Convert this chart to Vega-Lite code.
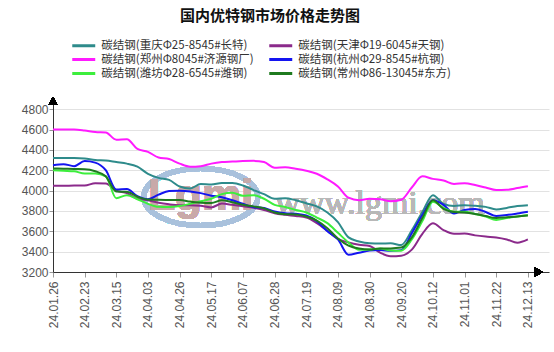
{
  "$schema": "https://vega.github.io/schema/vega-lite/v6.json",
  "autosize": {"type": "none"},
  "padding": {"left": 53, "top": 99, "right": 5, "bottom": 80},
  "width": 496,
  "height": 173,
  "background": "white",
  "title": {"text": "国内优特钢市场价格走势图", "font": "Noto Sans CJK SC", "fontSize": 15, "fontWeight": "bold", "color": "#111", "anchor": "middle", "dx": -31, "offset": 14, "frame": "group"},
  "config": {
    "view": {"stroke": null},
    "axis": {"labelFont": "Liberation Sans", "labelFontSize": 12, "labelColor": "#555"}
  },
  "data": {"values": [
{"date":"24.01.26","series":"碳结钢(重庆Φ25-8545#长特)","price":4320},
{"date":"24.02.01","series":"碳结钢(重庆Φ25-8545#长特)","price":4320},
{"date":"24.02.08","series":"碳结钢(重庆Φ25-8545#长特)","price":4320},
{"date":"24.02.23","series":"碳结钢(重庆Φ25-8545#长特)","price":4315},
{"date":"24.03.01","series":"碳结钢(重庆Φ25-8545#长特)","price":4300},
{"date":"24.03.08","series":"碳结钢(重庆Φ25-8545#长特)","price":4295},
{"date":"24.03.15","series":"碳结钢(重庆Φ25-8545#长特)","price":4280},
{"date":"24.03.22","series":"碳结钢(重庆Φ25-8545#长特)","price":4265},
{"date":"24.03.28","series":"碳结钢(重庆Φ25-8545#长特)","price":4235},
{"date":"24.04.03","series":"碳结钢(重庆Φ25-8545#长特)","price":4165},
{"date":"24.04.12","series":"碳结钢(重庆Φ25-8545#长特)","price":4125},
{"date":"24.04.19","series":"碳结钢(重庆Φ25-8545#长特)","price":4105},
{"date":"24.04.26","series":"碳结钢(重庆Φ25-8545#长特)","price":4040},
{"date":"24.05.06","series":"碳结钢(重庆Φ25-8545#长特)","price":4020},
{"date":"24.05.11","series":"碳结钢(重庆Φ25-8545#长特)","price":4065},
{"date":"24.05.17","series":"碳结钢(重庆Φ25-8545#长特)","price":4060},
{"date":"24.05.24","series":"碳结钢(重庆Φ25-8545#长特)","price":4075},
{"date":"24.05.31","series":"碳结钢(重庆Φ25-8545#长特)","price":4075},
{"date":"24.06.07","series":"碳结钢(重庆Φ25-8545#长特)","price":4050},
{"date":"24.06.14","series":"碳结钢(重庆Φ25-8545#长特)","price":4005},
{"date":"24.06.21","series":"碳结钢(重庆Φ25-8545#长特)","price":3965},
{"date":"24.06.28","series":"碳结钢(重庆Φ25-8545#长特)","price":3920},
{"date":"24.07.05","series":"碳结钢(重庆Φ25-8545#长特)","price":3925},
{"date":"24.07.12","series":"碳结钢(重庆Φ25-8545#长特)","price":3905},
{"date":"24.07.19","series":"碳结钢(重庆Φ25-8545#长特)","price":3875},
{"date":"24.07.26","series":"碳结钢(重庆Φ25-8545#长特)","price":3845},
{"date":"24.08.02","series":"碳结钢(重庆Φ25-8545#长特)","price":3785},
{"date":"24.08.09","series":"碳结钢(重庆Φ25-8545#长特)","price":3690},
{"date":"24.08.16","series":"碳结钢(重庆Φ25-8545#长特)","price":3540},
{"date":"24.08.23","series":"碳结钢(重庆Φ25-8545#长特)","price":3500},
{"date":"24.08.30","series":"碳结钢(重庆Φ25-8545#长特)","price":3482},
{"date":"24.09.06","series":"碳结钢(重庆Φ25-8545#长特)","price":3480},
{"date":"24.09.13","series":"碳结钢(重庆Φ25-8545#长特)","price":3482},
{"date":"24.09.20","series":"碳结钢(重庆Φ25-8545#长特)","price":3465},
{"date":"24.09.27","series":"碳结钢(重庆Φ25-8545#长特)","price":3610},
{"date":"24.10.09","series":"碳结钢(重庆Φ25-8545#长特)","price":3790},
{"date":"24.10.12","series":"碳结钢(重庆Φ25-8545#长特)","price":3955},
{"date":"24.10.18","series":"碳结钢(重庆Φ25-8545#长特)","price":3870},
{"date":"24.10.25","series":"碳结钢(重庆Φ25-8545#长特)","price":3848},
{"date":"24.11.01","series":"碳结钢(重庆Φ25-8545#长特)","price":3857},
{"date":"24.11.08","series":"碳结钢(重庆Φ25-8545#长特)","price":3850},
{"date":"24.11.15","series":"碳结钢(重庆Φ25-8545#长特)","price":3840},
{"date":"24.11.22","series":"碳结钢(重庆Φ25-8545#长特)","price":3815},
{"date":"24.11.29","series":"碳结钢(重庆Φ25-8545#长特)","price":3830},
{"date":"24.12.06","series":"碳结钢(重庆Φ25-8545#长特)","price":3848},
{"date":"24.12.13","series":"碳结钢(重庆Φ25-8545#长特)","price":3857},
{"date":"24.01.26","series":"碳结钢(天津Φ19-6045#天钢)","price":4047},
{"date":"24.02.01","series":"碳结钢(天津Φ19-6045#天钢)","price":4047},
{"date":"24.02.08","series":"碳结钢(天津Φ19-6045#天钢)","price":4050},
{"date":"24.02.23","series":"碳结钢(天津Φ19-6045#天钢)","price":4050},
{"date":"24.03.01","series":"碳结钢(天津Φ19-6045#天钢)","price":4072},
{"date":"24.03.08","series":"碳结钢(天津Φ19-6045#天钢)","price":4070},
{"date":"24.03.15","series":"碳结钢(天津Φ19-6045#天钢)","price":4000},
{"date":"24.03.22","series":"碳结钢(天津Φ19-6045#天钢)","price":3975},
{"date":"24.03.28","series":"碳结钢(天津Φ19-6045#天钢)","price":3920},
{"date":"24.04.03","series":"碳结钢(天津Φ19-6045#天钢)","price":3905},
{"date":"24.04.12","series":"碳结钢(天津Φ19-6045#天钢)","price":3880},
{"date":"24.04.19","series":"碳结钢(天津Φ19-6045#天钢)","price":3865},
{"date":"24.04.26","series":"碳结钢(天津Φ19-6045#天钢)","price":3857},
{"date":"24.05.06","series":"碳结钢(天津Φ19-6045#天钢)","price":3857},
{"date":"24.05.11","series":"碳结钢(天津Φ19-6045#天钢)","price":3850},
{"date":"24.05.17","series":"碳结钢(天津Φ19-6045#天钢)","price":3835},
{"date":"24.05.24","series":"碳结钢(天津Φ19-6045#天钢)","price":3872},
{"date":"24.05.31","series":"碳结钢(天津Φ19-6045#天钢)","price":3860},
{"date":"24.06.07","series":"碳结钢(天津Φ19-6045#天钢)","price":3845},
{"date":"24.06.14","series":"碳结钢(天津Φ19-6045#天钢)","price":3830},
{"date":"24.06.21","series":"碳结钢(天津Φ19-6045#天钢)","price":3810},
{"date":"24.06.28","series":"碳结钢(天津Φ19-6045#天钢)","price":3778},
{"date":"24.07.05","series":"碳结钢(天津Φ19-6045#天钢)","price":3762},
{"date":"24.07.12","series":"碳结钢(天津Φ19-6045#天钢)","price":3750},
{"date":"24.07.19","series":"碳结钢(天津Φ19-6045#天钢)","price":3735},
{"date":"24.07.26","series":"碳结钢(天津Φ19-6045#天钢)","price":3680},
{"date":"24.08.02","series":"碳结钢(天津Φ19-6045#天钢)","price":3605},
{"date":"24.08.09","series":"碳结钢(天津Φ19-6045#天钢)","price":3525},
{"date":"24.08.16","series":"碳结钢(天津Φ19-6045#天钢)","price":3490},
{"date":"24.08.23","series":"碳结钢(天津Φ19-6045#天钢)","price":3467},
{"date":"24.08.30","series":"碳结钢(天津Φ19-6045#天钢)","price":3455},
{"date":"24.09.06","series":"碳结钢(天津Φ19-6045#天钢)","price":3390},
{"date":"24.09.13","series":"碳结钢(天津Φ19-6045#天钢)","price":3355},
{"date":"24.09.20","series":"碳结钢(天津Φ19-6045#天钢)","price":3360},
{"date":"24.09.27","series":"碳结钢(天津Φ19-6045#天钢)","price":3420},
{"date":"24.10.09","series":"碳结钢(天津Φ19-6045#天钢)","price":3575},
{"date":"24.10.12","series":"碳结钢(天津Φ19-6045#天钢)","price":3678},
{"date":"24.10.18","series":"碳结钢(天津Φ19-6045#天钢)","price":3612},
{"date":"24.10.25","series":"碳结钢(天津Φ19-6045#天钢)","price":3575},
{"date":"24.11.01","series":"碳结钢(天津Φ19-6045#天钢)","price":3578},
{"date":"24.11.08","series":"碳结钢(天津Φ19-6045#天钢)","price":3560},
{"date":"24.11.15","series":"碳结钢(天津Φ19-6045#天钢)","price":3548},
{"date":"24.11.22","series":"碳结钢(天津Φ19-6045#天钢)","price":3540},
{"date":"24.11.29","series":"碳结钢(天津Φ19-6045#天钢)","price":3520},
{"date":"24.12.06","series":"碳结钢(天津Φ19-6045#天钢)","price":3488},
{"date":"24.12.13","series":"碳结钢(天津Φ19-6045#天钢)","price":3520},
{"date":"24.01.26","series":"碳结钢(郑州Φ8045#济源钢厂)","price":4600},
{"date":"24.02.01","series":"碳结钢(郑州Φ8045#济源钢厂)","price":4600},
{"date":"24.02.08","series":"碳结钢(郑州Φ8045#济源钢厂)","price":4600},
{"date":"24.02.23","series":"碳结钢(郑州Φ8045#济源钢厂)","price":4590},
{"date":"24.03.01","series":"碳结钢(郑州Φ8045#济源钢厂)","price":4575},
{"date":"24.03.08","series":"碳结钢(郑州Φ8045#济源钢厂)","price":4570},
{"date":"24.03.15","series":"碳结钢(郑州Φ8045#济源钢厂)","price":4500},
{"date":"24.03.22","series":"碳结钢(郑州Φ8045#济源钢厂)","price":4505},
{"date":"24.03.28","series":"碳结钢(郑州Φ8045#济源钢厂)","price":4410},
{"date":"24.04.03","series":"碳结钢(郑州Φ8045#济源钢厂)","price":4380},
{"date":"24.04.12","series":"碳结钢(郑州Φ8045#济源钢厂)","price":4325},
{"date":"24.04.19","series":"碳结钢(郑州Φ8045#济源钢厂)","price":4310},
{"date":"24.04.26","series":"碳结钢(郑州Φ8045#济源钢厂)","price":4265},
{"date":"24.05.06","series":"碳结钢(郑州Φ8045#济源钢厂)","price":4235},
{"date":"24.05.11","series":"碳结钢(郑州Φ8045#济源钢厂)","price":4240},
{"date":"24.05.17","series":"碳结钢(郑州Φ8045#济源钢厂)","price":4265},
{"date":"24.05.24","series":"碳结钢(郑州Φ8045#济源钢厂)","price":4280},
{"date":"24.05.31","series":"碳结钢(郑州Φ8045#济源钢厂)","price":4285},
{"date":"24.06.07","series":"碳结钢(郑州Φ8045#济源钢厂)","price":4290},
{"date":"24.06.14","series":"碳结钢(郑州Φ8045#济源钢厂)","price":4292},
{"date":"24.06.21","series":"碳结钢(郑州Φ8045#济源钢厂)","price":4280},
{"date":"24.06.28","series":"碳结钢(郑州Φ8045#济源钢厂)","price":4225},
{"date":"24.07.05","series":"碳结钢(郑州Φ8045#济源钢厂)","price":4230},
{"date":"24.07.12","series":"碳结钢(郑州Φ8045#济源钢厂)","price":4215},
{"date":"24.07.19","series":"碳结钢(郑州Φ8045#济源钢厂)","price":4195},
{"date":"24.07.26","series":"碳结钢(郑州Φ8045#济源钢厂)","price":4165},
{"date":"24.08.02","series":"碳结钢(郑州Φ8045#济源钢厂)","price":4110},
{"date":"24.08.09","series":"碳结钢(郑州Φ8045#济源钢厂)","price":4040},
{"date":"24.08.16","series":"碳结钢(郑州Φ8045#济源钢厂)","price":3930},
{"date":"24.08.23","series":"碳结钢(郑州Φ8045#济源钢厂)","price":3905},
{"date":"24.08.30","series":"碳结钢(郑州Φ8045#济源钢厂)","price":3920},
{"date":"24.09.06","series":"碳结钢(郑州Φ8045#济源钢厂)","price":3915},
{"date":"24.09.13","series":"碳结钢(郑州Φ8045#济源钢厂)","price":3895},
{"date":"24.09.20","series":"碳结钢(郑州Φ8045#济源钢厂)","price":3910},
{"date":"24.09.27","series":"碳结钢(郑州Φ8045#济源钢厂)","price":4030},
{"date":"24.10.09","series":"碳结钢(郑州Φ8045#济源钢厂)","price":4140},
{"date":"24.10.12","series":"碳结钢(郑州Φ8045#济源钢厂)","price":4115},
{"date":"24.10.18","series":"碳结钢(郑州Φ8045#济源钢厂)","price":4100},
{"date":"24.10.25","series":"碳结钢(郑州Φ8045#济源钢厂)","price":4065},
{"date":"24.11.01","series":"碳结钢(郑州Φ8045#济源钢厂)","price":4072},
{"date":"24.11.08","series":"碳结钢(郑州Φ8045#济源钢厂)","price":4055},
{"date":"24.11.15","series":"碳结钢(郑州Φ8045#济源钢厂)","price":4030},
{"date":"24.11.22","series":"碳结钢(郑州Φ8045#济源钢厂)","price":4005},
{"date":"24.11.29","series":"碳结钢(郑州Φ8045#济源钢厂)","price":4008},
{"date":"24.12.06","series":"碳结钢(郑州Φ8045#济源钢厂)","price":4025},
{"date":"24.12.13","series":"碳结钢(郑州Φ8045#济源钢厂)","price":4044},
{"date":"24.01.26","series":"碳结钢(杭州Φ29-8545#杭钢)","price":4250},
{"date":"24.02.01","series":"碳结钢(杭州Φ29-8545#杭钢)","price":4260},
{"date":"24.02.08","series":"碳结钢(杭州Φ29-8545#杭钢)","price":4240},
{"date":"24.02.23","series":"碳结钢(杭州Φ29-8545#杭钢)","price":4290},
{"date":"24.03.01","series":"碳结钢(杭州Φ29-8545#杭钢)","price":4275},
{"date":"24.03.08","series":"碳结钢(杭州Φ29-8545#杭钢)","price":4200},
{"date":"24.03.15","series":"碳结钢(杭州Φ29-8545#杭钢)","price":4010},
{"date":"24.03.22","series":"碳结钢(杭州Φ29-8545#杭钢)","price":4015},
{"date":"24.03.28","series":"碳结钢(杭州Φ29-8545#杭钢)","price":3945},
{"date":"24.04.03","series":"碳结钢(杭州Φ29-8545#杭钢)","price":3915},
{"date":"24.04.12","series":"碳结钢(杭州Φ29-8545#杭钢)","price":3960},
{"date":"24.04.19","series":"碳结钢(杭州Φ29-8545#杭钢)","price":3995},
{"date":"24.04.26","series":"碳结钢(杭州Φ29-8545#杭钢)","price":3998},
{"date":"24.05.06","series":"碳结钢(杭州Φ29-8545#杭钢)","price":3992},
{"date":"24.05.11","series":"碳结钢(杭州Φ29-8545#杭钢)","price":3975},
{"date":"24.05.17","series":"碳结钢(杭州Φ29-8545#杭钢)","price":3950},
{"date":"24.05.24","series":"碳结钢(杭州Φ29-8545#杭钢)","price":3935},
{"date":"24.05.31","series":"碳结钢(杭州Φ29-8545#杭钢)","price":3905},
{"date":"24.06.07","series":"碳结钢(杭州Φ29-8545#杭钢)","price":3870},
{"date":"24.06.14","series":"碳结钢(杭州Φ29-8545#杭钢)","price":3838},
{"date":"24.06.21","series":"碳结钢(杭州Φ29-8545#杭钢)","price":3828},
{"date":"24.06.28","series":"碳结钢(杭州Φ29-8545#杭钢)","price":3795},
{"date":"24.07.05","series":"碳结钢(杭州Φ29-8545#杭钢)","price":3778},
{"date":"24.07.12","series":"碳结钢(杭州Φ29-8545#杭钢)","price":3772},
{"date":"24.07.19","series":"碳结钢(杭州Φ29-8545#杭钢)","price":3755},
{"date":"24.07.26","series":"碳结钢(杭州Φ29-8545#杭钢)","price":3700},
{"date":"24.08.02","series":"碳结钢(杭州Φ29-8545#杭钢)","price":3600},
{"date":"24.08.09","series":"碳结钢(杭州Φ29-8545#杭钢)","price":3520},
{"date":"24.08.16","series":"碳结钢(杭州Φ29-8545#杭钢)","price":3370},
{"date":"24.08.23","series":"碳结钢(杭州Φ29-8545#杭钢)","price":3390},
{"date":"24.08.30","series":"碳结钢(杭州Φ29-8545#杭钢)","price":3410},
{"date":"24.09.06","series":"碳结钢(杭州Φ29-8545#杭钢)","price":3415},
{"date":"24.09.13","series":"碳结钢(杭州Φ29-8545#杭钢)","price":3409},
{"date":"24.09.20","series":"碳结钢(杭州Φ29-8545#杭钢)","price":3415},
{"date":"24.09.27","series":"碳结钢(杭州Φ29-8545#杭钢)","price":3580},
{"date":"24.10.09","series":"碳结钢(杭州Φ29-8545#杭钢)","price":3760},
{"date":"24.10.12","series":"碳结钢(杭州Φ29-8545#杭钢)","price":3905},
{"date":"24.10.18","series":"碳结钢(杭州Φ29-8545#杭钢)","price":3860},
{"date":"24.10.25","series":"碳结钢(杭州Φ29-8545#杭钢)","price":3775},
{"date":"24.11.01","series":"碳结钢(杭州Φ29-8545#杭钢)","price":3810},
{"date":"24.11.08","series":"碳结钢(杭州Φ29-8545#杭钢)","price":3820},
{"date":"24.11.15","series":"碳结钢(杭州Φ29-8545#杭钢)","price":3790},
{"date":"24.11.22","series":"碳结钢(杭州Φ29-8545#杭钢)","price":3750},
{"date":"24.11.29","series":"碳结钢(杭州Φ29-8545#杭钢)","price":3760},
{"date":"24.12.06","series":"碳结钢(杭州Φ29-8545#杭钢)","price":3775},
{"date":"24.12.13","series":"碳结钢(杭州Φ29-8545#杭钢)","price":3792},
{"date":"24.01.26","series":"碳结钢(潍坊Φ28-6545#潍钢)","price":4200},
{"date":"24.02.01","series":"碳结钢(潍坊Φ28-6545#潍钢)","price":4195},
{"date":"24.02.08","series":"碳结钢(潍坊Φ28-6545#潍钢)","price":4190},
{"date":"24.02.23","series":"碳结钢(潍坊Φ28-6545#潍钢)","price":4168},
{"date":"24.03.01","series":"碳结钢(潍坊Φ28-6545#潍钢)","price":4168},
{"date":"24.03.08","series":"碳结钢(潍坊Φ28-6545#潍钢)","price":4140},
{"date":"24.03.15","series":"碳结钢(潍坊Φ28-6545#潍钢)","price":3925},
{"date":"24.03.22","series":"碳结钢(潍坊Φ28-6545#潍钢)","price":3955},
{"date":"24.03.28","series":"碳结钢(潍坊Φ28-6545#潍钢)","price":3915},
{"date":"24.04.03","series":"碳结钢(潍坊Φ28-6545#潍钢)","price":3870},
{"date":"24.04.12","series":"碳结钢(潍坊Φ28-6545#潍钢)","price":3840},
{"date":"24.04.19","series":"碳结钢(潍坊Φ28-6545#潍钢)","price":3838},
{"date":"24.04.26","series":"碳结钢(潍坊Φ28-6545#潍钢)","price":3848},
{"date":"24.05.06","series":"碳结钢(潍坊Φ28-6545#潍钢)","price":3870},
{"date":"24.05.11","series":"碳结钢(潍坊Φ28-6545#潍钢)","price":3895},
{"date":"24.05.17","series":"碳结钢(潍坊Φ28-6545#潍钢)","price":3920},
{"date":"24.05.24","series":"碳结钢(潍坊Φ28-6545#潍钢)","price":3965},
{"date":"24.05.31","series":"碳结钢(潍坊Φ28-6545#潍钢)","price":3978},
{"date":"24.06.07","series":"碳结钢(潍坊Φ28-6545#潍钢)","price":3950},
{"date":"24.06.14","series":"碳结钢(潍坊Φ28-6545#潍钢)","price":3955},
{"date":"24.06.21","series":"碳结钢(潍坊Φ28-6545#潍钢)","price":3920},
{"date":"24.06.28","series":"碳结钢(潍坊Φ28-6545#潍钢)","price":3860},
{"date":"24.07.05","series":"碳结钢(潍坊Φ28-6545#潍钢)","price":3838},
{"date":"24.07.12","series":"碳结钢(潍坊Φ28-6545#潍钢)","price":3810},
{"date":"24.07.19","series":"碳结钢(潍坊Φ28-6545#潍钢)","price":3785},
{"date":"24.07.26","series":"碳结钢(潍坊Φ28-6545#潍钢)","price":3735},
{"date":"24.08.02","series":"碳结钢(潍坊Φ28-6545#潍钢)","price":3680},
{"date":"24.08.09","series":"碳结钢(潍坊Φ28-6545#潍钢)","price":3585},
{"date":"24.08.16","series":"碳结钢(潍坊Φ28-6545#潍钢)","price":3490},
{"date":"24.08.23","series":"碳结钢(潍坊Φ28-6545#潍钢)","price":3418},
{"date":"24.08.30","series":"碳结钢(潍坊Φ28-6545#潍钢)","price":3420},
{"date":"24.09.06","series":"碳结钢(潍坊Φ28-6545#潍钢)","price":3432},
{"date":"24.09.13","series":"碳结钢(潍坊Φ28-6545#潍钢)","price":3412},
{"date":"24.09.20","series":"碳结钢(潍坊Φ28-6545#潍钢)","price":3410},
{"date":"24.09.27","series":"碳结钢(潍坊Φ28-6545#潍钢)","price":3520},
{"date":"24.10.09","series":"碳结钢(潍坊Φ28-6545#潍钢)","price":3700},
{"date":"24.10.12","series":"碳结钢(潍坊Φ28-6545#潍钢)","price":3890},
{"date":"24.10.18","series":"碳结钢(潍坊Φ28-6545#潍钢)","price":3830},
{"date":"24.10.25","series":"碳结钢(潍坊Φ28-6545#潍钢)","price":3792},
{"date":"24.11.01","series":"碳结钢(潍坊Φ28-6545#潍钢)","price":3792},
{"date":"24.11.08","series":"碳结钢(潍坊Φ28-6545#潍钢)","price":3770},
{"date":"24.11.15","series":"碳结钢(潍坊Φ28-6545#潍钢)","price":3745},
{"date":"24.11.22","series":"碳结钢(潍坊Φ28-6545#潍钢)","price":3712},
{"date":"24.11.29","series":"碳结钢(潍坊Φ28-6545#潍钢)","price":3730},
{"date":"24.12.06","series":"碳结钢(潍坊Φ28-6545#潍钢)","price":3745},
{"date":"24.12.13","series":"碳结钢(潍坊Φ28-6545#潍钢)","price":3759},
{"date":"24.01.26","series":"碳结钢(常州Φ86-13045#东方)","price":4217},
{"date":"24.02.01","series":"碳结钢(常州Φ86-13045#东方)","price":4215},
{"date":"24.02.08","series":"碳结钢(常州Φ86-13045#东方)","price":4212},
{"date":"24.02.23","series":"碳结钢(常州Φ86-13045#东方)","price":4210},
{"date":"24.03.01","series":"碳结钢(常州Φ86-13045#东方)","price":4190},
{"date":"24.03.08","series":"碳结钢(常州Φ86-13045#东方)","price":4140},
{"date":"24.03.15","series":"碳结钢(常州Φ86-13045#东方)","price":3990},
{"date":"24.03.22","series":"碳结钢(常州Φ86-13045#东方)","price":3988},
{"date":"24.03.28","series":"碳结钢(常州Φ86-13045#东方)","price":3940},
{"date":"24.04.03","series":"碳结钢(常州Φ86-13045#东方)","price":3912},
{"date":"24.04.12","series":"碳结钢(常州Φ86-13045#东方)","price":3910},
{"date":"24.04.19","series":"碳结钢(常州Φ86-13045#东方)","price":3908},
{"date":"24.04.26","series":"碳结钢(常州Φ86-13045#东方)","price":3907},
{"date":"24.05.06","series":"碳结钢(常州Φ86-13045#东方)","price":3892},
{"date":"24.05.11","series":"碳结钢(常州Φ86-13045#东方)","price":3880},
{"date":"24.05.17","series":"碳结钢(常州Φ86-13045#东方)","price":3878},
{"date":"24.05.24","series":"碳结钢(常州Φ86-13045#东方)","price":3905},
{"date":"24.05.31","series":"碳结钢(常州Φ86-13045#东方)","price":3885},
{"date":"24.06.07","series":"碳结钢(常州Φ86-13045#东方)","price":3860},
{"date":"24.06.14","series":"碳结钢(常州Φ86-13045#东方)","price":3845},
{"date":"24.06.21","series":"碳结钢(常州Φ86-13045#东方)","price":3825},
{"date":"24.06.28","series":"碳结钢(常州Φ86-13045#东方)","price":3785},
{"date":"24.07.05","series":"碳结钢(常州Φ86-13045#东方)","price":3768},
{"date":"24.07.12","series":"碳结钢(常州Φ86-13045#东方)","price":3765},
{"date":"24.07.19","series":"碳结钢(常州Φ86-13045#东方)","price":3745},
{"date":"24.07.26","series":"碳结钢(常州Φ86-13045#东方)","price":3705},
{"date":"24.08.02","series":"碳结钢(常州Φ86-13045#东方)","price":3630},
{"date":"24.08.09","series":"碳结钢(常州Φ86-13045#东方)","price":3530},
{"date":"24.08.16","series":"碳结钢(常州Φ86-13045#东方)","price":3460},
{"date":"24.08.23","series":"碳结钢(常州Φ86-13045#东方)","price":3430},
{"date":"24.08.30","series":"碳结钢(常州Φ86-13045#东方)","price":3420},
{"date":"24.09.06","series":"碳结钢(常州Φ86-13045#东方)","price":3432},
{"date":"24.09.13","series":"碳结钢(常州Φ86-13045#东方)","price":3432},
{"date":"24.09.20","series":"碳结钢(常州Φ86-13045#东方)","price":3440},
{"date":"24.09.27","series":"碳结钢(常州Φ86-13045#东方)","price":3540},
{"date":"24.10.09","series":"碳结钢(常州Φ86-13045#东方)","price":3730},
{"date":"24.10.12","series":"碳结钢(常州Φ86-13045#东方)","price":3905},
{"date":"24.10.18","series":"碳结钢(常州Φ86-13045#东方)","price":3820},
{"date":"24.10.25","series":"碳结钢(常州Φ86-13045#东方)","price":3790},
{"date":"24.11.01","series":"碳结钢(常州Φ86-13045#东方)","price":3785},
{"date":"24.11.08","series":"碳结钢(常州Φ86-13045#东方)","price":3770},
{"date":"24.11.15","series":"碳结钢(常州Φ86-13045#东方)","price":3750},
{"date":"24.11.22","series":"碳结钢(常州Φ86-13045#东方)","price":3730},
{"date":"24.11.29","series":"碳结钢(常州Φ86-13045#东方)","price":3738},
{"date":"24.12.06","series":"碳结钢(常州Φ86-13045#东方)","price":3745},
{"date":"24.12.13","series":"碳结钢(常州Φ86-13045#东方)","price":3755}
  ]},
  "encoding": {
    "x": {"field": "date", "type": "ordinal", "title": null,
      "scale": {"type": "point", "padding": 0, "domain": ["24.01.26","24.02.01","24.02.08","24.02.23","24.03.01","24.03.08","24.03.15","24.03.22","24.03.28","24.04.03","24.04.12","24.04.19","24.04.26","24.05.06","24.05.11","24.05.17","24.05.24","24.05.31","24.06.07","24.06.14","24.06.21","24.06.28","24.07.05","24.07.12","24.07.19","24.07.26","24.08.02","24.08.09","24.08.16","24.08.23","24.08.30","24.09.06","24.09.13","24.09.20","24.09.27","24.10.09","24.10.12","24.10.18","24.10.25","24.11.01","24.11.08","24.11.15","24.11.22","24.11.29","24.12.06","24.12.13","24.12.20","24.12.27"]},
      "axis": {"values": ["24.01.26","24.02.23","24.03.15","24.04.03","24.04.26","24.05.17","24.06.07","24.06.28","24.07.19","24.08.09","24.08.30","24.09.20","24.10.12","24.11.01","24.11.22","24.12.13"], "labelAngle": -90, "labelAlign": "right", "labelBaseline": "middle", "tickSize": 5, "tickColor": "#999", "domainColor": "#333", "labelPadding": 4, "grid": false}},
    "y": {"type": "quantitative", "title": null,
      "scale": {"domain": [3200, 4900], "nice": false, "zero": false},
      "axis": {"values": [3200,3400,3600,3800,4000,4200,4400,4600,4800], "format": "d", "tickSize": 4, "tickColor": "#999", "labelPadding": 1, "domainColor": "#333", "grid": true, "gridColor": "#e2e2e2"}}
  },
  "layer": [
    {"mark": {"type": "point", "shape": "M-1,0A1,0.5,0,1,1,1,0A1,0.5,0,1,1,-1,0Z", "filled": false, "size": 12996, "stroke": "#a9c1dc", "strokeWidth": 5, "opacity": 0.35},
     "encoding": {"x": {"datum": "24.05.11"}, "y": {"datum": 3936}}},
    {"mark": {"type": "text", "text": "Lgmi", "font": "Liberation Sans", "fontWeight": "bold", "fontSize": 44, "color": "#c9a9a9", "opacity": 0.35},
     "encoding": {"x": {"datum": "24.05.11"}, "y": {"datum": 3936}}},
    {"mark": {"type": "text", "text": "www.lgmi.com", "font": "Liberation Serif", "fontSize": 34, "color": "#b8b8b8", "opacity": 0.7},
     "encoding": {"x": {"datum": "24.09.06"}, "y": {"datum": 3867}}},
    {"mark": {"type": "line", "interpolate": "monotone", "strokeWidth": 2},
     "encoding": {
       "y": {"field": "price"},
       "color": {"field": "series", "type": "nominal",
         "scale": {"domain": ["碳结钢(重庆Φ25-8545#长特)","碳结钢(天津Φ19-6045#天钢)","碳结钢(郑州Φ8045#济源钢厂)","碳结钢(杭州Φ29-8545#杭钢)","碳结钢(潍坊Φ28-6545#潍钢)","碳结钢(常州Φ86-13045#东方)"],
                   "range": ["#2e8b8b","#8b2a8b","#ff1aff","#1414f0","#3cee3c","#1f7a1f"]},
         "legend": {"title": null, "orient": "none", "legendX": 23.25, "legendY": -61, "columns": 2, "direction": "horizontal", "padding": 0, "symbolType": "M-2,0H2", "symbolSize": 132, "symbolStrokeWidth": 3, "labelOffset": 10, "columnPadding": 9, "rowPadding": 0, "labelFont": "Noto Sans CJK SC", "labelFontSize": 11.5, "labelColor": "#333", "labelLimit": 300}}
     }},
    {"mark": {"type": "point", "shape": "triangle-up", "filled": true, "color": "black", "size": 70, "opacity": 1},
     "encoding": {"x": {"datum": "24.01.26"}, "y": {"datum": 4885}}},
    {"mark": {"type": "point", "shape": "triangle-right", "filled": true, "color": "black", "size": 90, "opacity": 1},
     "encoding": {"x": {"datum": "24.12.20"}, "y": {"datum": 3200}}}
  ]
}
